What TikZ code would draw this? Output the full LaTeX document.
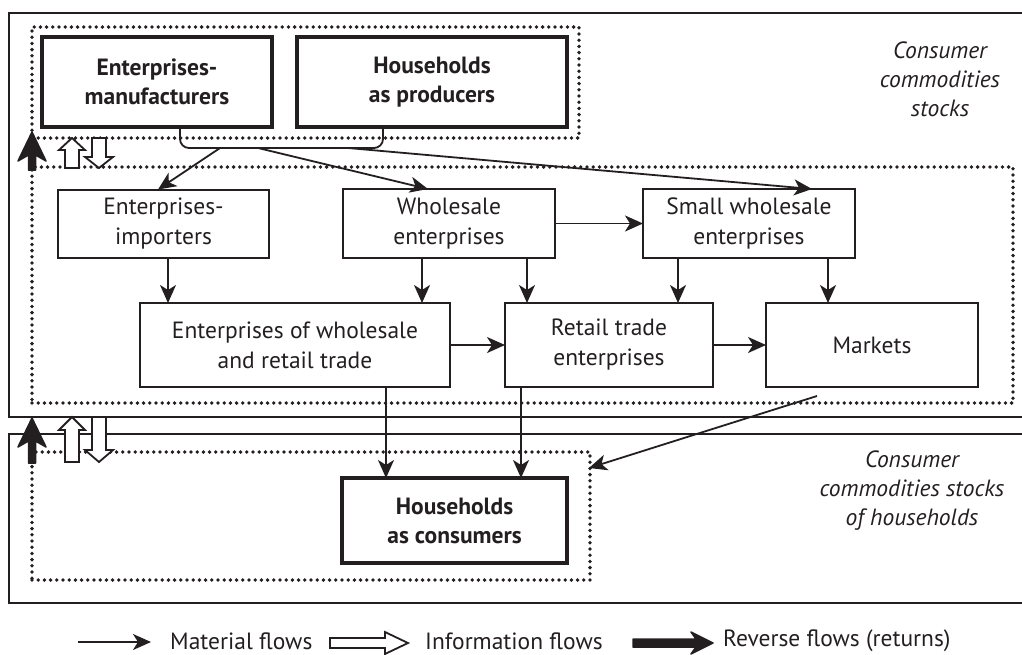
\documentclass[tikz,border=0pt]{standalone}
\usepackage{fontspec}
\setmainfont{PT Sans}
\usetikzlibrary{arrows.meta}
\definecolor{ink}{RGB}{35,31,32}
\begin{document}
\begin{tikzpicture}[x=1pt,y=-1pt,
 thinbox/.style={draw=ink, line width=1.9pt, align=center, inner sep=0pt, outer sep=0pt, text=ink, font=\fontsize{23.5}{30}\selectfont},
 thickbox/.style={draw=ink, line width=4pt, align=center, inner sep=0pt, outer sep=0pt, text=ink, font=\fontsize{23.5}{29}\selectfont\bfseries},
 dotbox/.style={draw=ink, line width=3.8pt, dash pattern=on 0pt off 6.2pt, line cap=round, inner sep=0pt, outer sep=0pt},
 outerbox/.style={draw=ink, line width=2.6pt},
 arr/.style={draw=ink, line width=1.8pt, -{Stealth[length=18pt,width=16pt,inset=5pt]}},
 thickshape/.style={draw=ink, fill=ink, line width=1.5pt, line join=round},
 hollow/.style={draw=ink, line width=1.8pt, fill=white, line join=miter},
 note/.style={align=center, text=ink, font=\fontsize{23.5}{29}\selectfont\itshape},
 legend/.style={anchor=west, inner sep=0pt, text=ink, font=\fontsize{23.5}{26}\selectfont}
]
\useasboundingbox (0,0) rectangle (1022,654);
\clip (0,0) rectangle (1022,654);

% outer areas
\draw[outerbox] (9,13) rectangle (1040,417);
\draw[outerbox] (9,434) rectangle (1040,603);

% dotted groups
\node[dotbox, minimum width=547pt, minimum height=111pt] (pd) at (305.5,82.5) {};
\node[dotbox, minimum width=981pt, minimum height=236pt] (md) at (522.5,285) {};
\node[dotbox, minimum width=558pt, minimum height=128pt] (bd) at (311,516) {};

% notes
\node[note] (n1) at (940,79) {Consumer\\commodities\\stocks};
\node[note] (n2) at (912,491) {Consumer\\commodities stocks\\of households};

% producers
\node[thickbox, minimum width=230pt, minimum height=90pt] (em) at (157,82) {Enterprises-\\manufacturers};
\node[thickbox, minimum width=270pt, minimum height=90pt] (hp) at (432,82) {Households\\as producers};

% middle
\node[thinbox, minimum width=211pt, minimum height=68pt] (imp) at (163.5,224) {Enterprises-\\importers};
\node[thinbox, minimum width=212pt, minimum height=69pt] (ws) at (449,223.5) {Wholesale\\enterprises};
\node[thinbox, minimum width=212pt, minimum height=69pt] (sws) at (749,223.5) {Small wholesale\\enterprises};
\node[thinbox, minimum width=310pt, minimum height=84pt] (ewr) at (295,345) {Enterprises of wholesale\\and retail trade};
\node[thinbox, minimum width=208pt, minimum height=84pt] (rt) at (609,345) {Retail trade\\enterprises};
\node[thinbox, minimum width=212pt, minimum height=84pt] (mk) at (872,345) {Markets};

% consumers
\node[thickbox, minimum width=225pt, minimum height=85pt] (hc) at (454.5,520.5) {Households\\as consumers};

% bracket from producers
\coordinate (bl) at (180,127);
\coordinate (br) at (383,127);
\draw[ink, line width=1.8pt, rounded corners=9pt] (bl) -- (180,148) -- (383,148) -- (br);
\coordinate (b1) at (220,148);
\coordinate (b2) at (258,148);
\coordinate (b3) at (348,148);
\draw[arr] (b1) -- (158,189.5);
\draw[arr] (b2) -- (428,189);
\draw[arr] (b3) -- (812,189);

% vertical flows
\coordinate (v1) at (168,258);
\coordinate (v2) at (422,258);
\coordinate (v3) at (527,258);
\coordinate (v4) at (678,258);
\coordinate (v5) at (828,258);
\draw[arr] (v1) -- (v1 |- ewr.north);
\draw[arr] (v2) -- (v2 |- ewr.north);
\draw[arr] (v3) -- (v3 |- rt.north);
\draw[arr] (v4) -- (v4 |- rt.north);
\draw[arr] (v5) -- (v5 |- mk.north);
\draw[arr] (ws.east) -- (sws.west);
\draw[arr] (ewr.east) -- (rt.west);
\draw[arr] (rt.east) -- (mk.west);
\coordinate (v6) at (386,387);
\coordinate (v7) at (521,387);
\draw[arr] (v6) -- (v6 |- hc.north);
\draw[arr] (v7) -- (v7 |- hc.north);
\coordinate (m1) at (817,396);
\coordinate (m2) at (589,468);
\draw[arr] (m1) -- (m2);

% reverse flows
\draw[thickshape] (28.5,170) -- (28.5,155) -- (18,161) -- (32,132) -- (46,161) -- (35.5,155) -- (35.5,170) -- cycle;
\draw[thickshape] (28.5,463) -- (28.5,441) -- (18,447) -- (32,418) -- (46,447) -- (35.5,441) -- (35.5,463) -- cycle;

% information flows
\draw[hollow] (65,168) -- (65,150) -- (59,150) -- (72,138) -- (85,150) -- (79,150) -- (79,168) -- cycle;
\draw[hollow] (92,138) -- (92,157) -- (85,157) -- (99,168) -- (113,157) -- (106,157) -- (106,138) -- cycle;
\draw[hollow] (65,462) -- (65,430) -- (59,430) -- (72,417) -- (85,430) -- (79,430) -- (79,462) -- cycle;
\draw[hollow] (92,417) -- (92,450) -- (85,450) -- (99,462) -- (113,450) -- (106,450) -- (106,417) -- cycle;

% legend
\coordinate (l1) at (78,642);
\coordinate (l2) at (151,642);
\draw[arr] (l1) -- (l2);
\node[legend] (lt1) at (170,641) {Material flows};
\draw[hollow] (330,638) -- (385,638) -- (385,632) -- (408,643) -- (385,654) -- (385,648) -- (330,648) -- cycle;
\node[legend] (lt2) at (425,641) {Information flows};
\draw[thickshape] (633,639) -- (696,639) -- (691,632) -- (713,643) -- (691,654) -- (696,647) -- (633,647) -- cycle;
\node[legend] (lt3) at (723,641) {Reverse flows (returns)};
\end{tikzpicture}
\end{document}
